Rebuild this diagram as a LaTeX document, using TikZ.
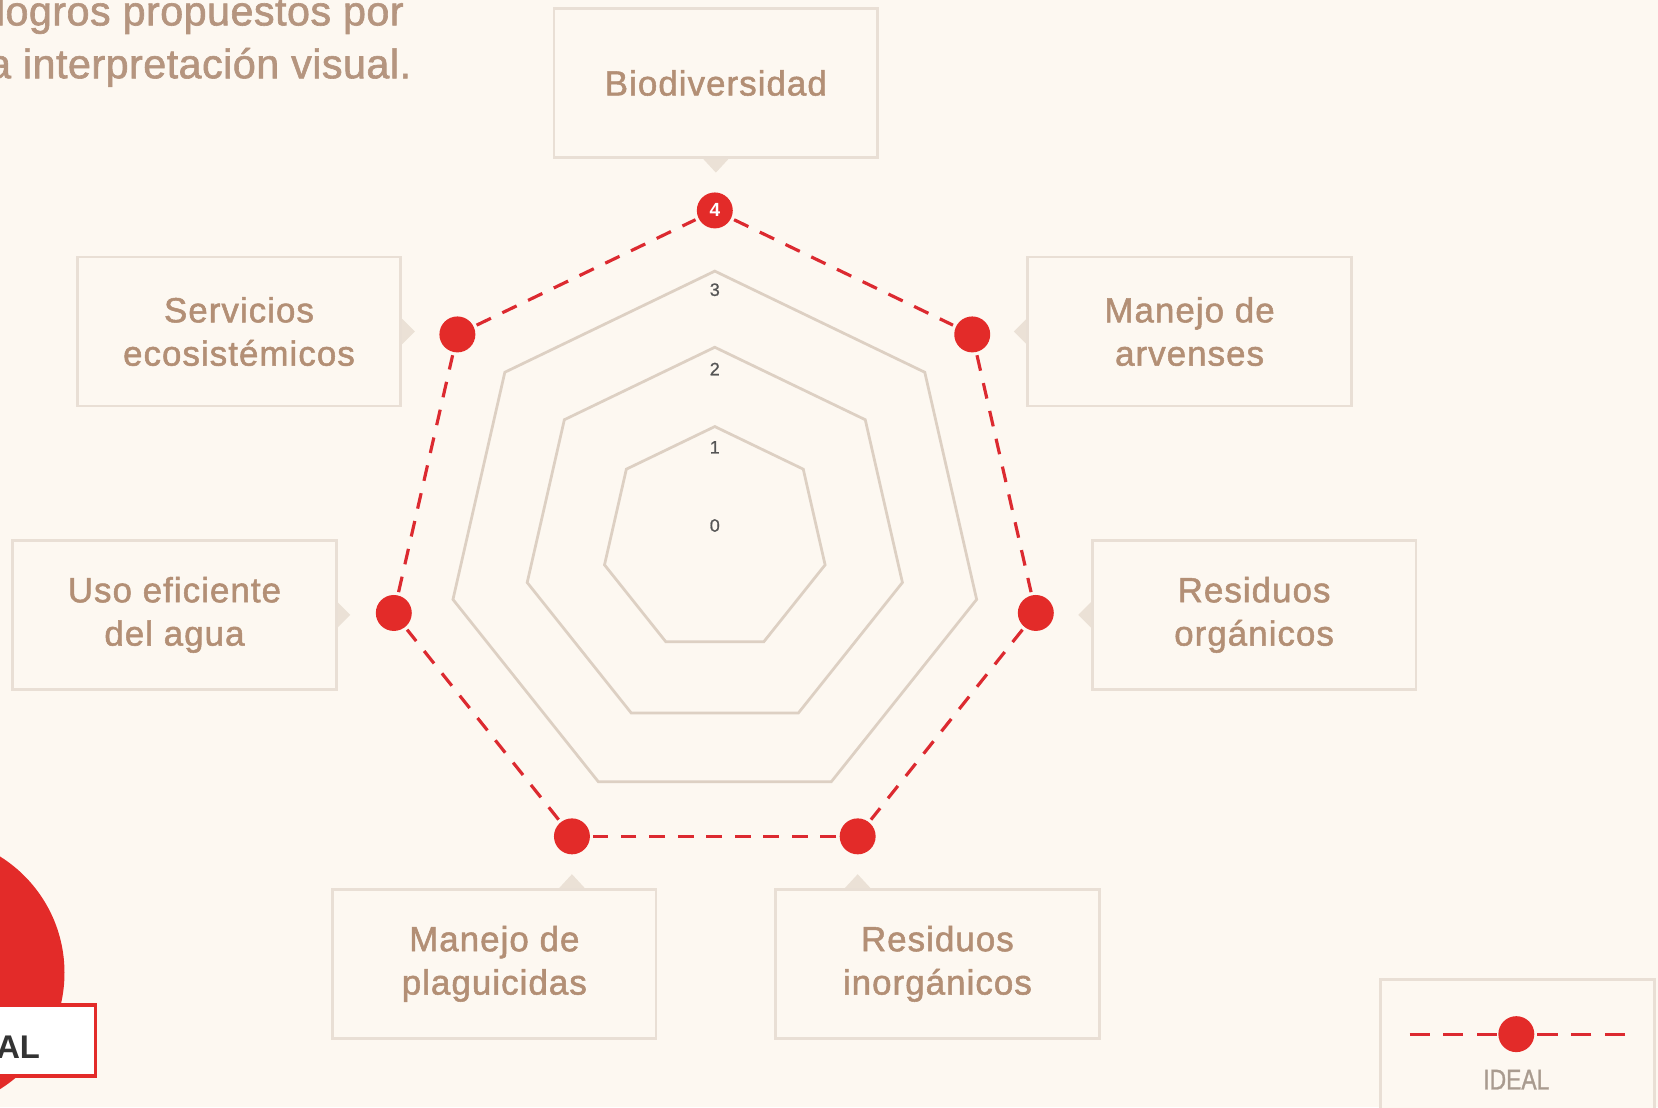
\documentclass[tikz,border=0pt]{standalone}
\usepackage{fontspec}
\setmainfont{Liberation Sans}
\newfontfamily\labfont[LetterSpace=3,FakeBold=1.5]{Liberation Sans}
\newfontfamily\topfont[LetterSpace=1.2,FakeBold=1.5]{Liberation Sans}
\newfontfamily\condfont[FakeStretch=0.8,FakeBold=1]{Liberation Sans}
\newfontfamily\numfont[FakeBold=0.8]{Liberation Sans}
\usetikzlibrary{calc}
\definecolor{bgc}{HTML}{FDF8F1}
\definecolor{boxline}{HTML}{E9DFD5}
\definecolor{ptrc}{HTML}{EBE1D6}
\definecolor{labc}{HTML}{B38F75}
\definecolor{toptc}{HTML}{B5957F}
\definecolor{gridc}{HTML}{DDD0C3}
\definecolor{redc}{HTML}{E32B29}
\definecolor{dashc}{HTML}{DC2A30}
\definecolor{numc}{HTML}{555555}
\definecolor{legc}{HTML}{A99B8F}
\definecolor{darkc}{HTML}{333333}
\tikzset{
 lbox/.style={draw=boxline, line width=2.5pt, fill=bgc, minimum width=306pt, minimum height=141pt, inner sep=0pt, text=labc, align=center, font=\labfont\fontsize{33}{41}\selectfont},
 ptr/.style={fill=ptrc},
 gridl/.style={draw=gridc, line width=2.6pt, line join=miter},
 dot/.style={circle, fill=redc, minimum size=34pt, inner sep=0pt},
 rdash/.style={draw=dashc, line width=3pt, dash pattern=on 15pt off 12pt},
 num/.style={text=numc, font=\numfont\fontsize{17}{17}\selectfont, inner sep=0pt},
 toptext/.style={anchor=base east, text=toptc, font=\topfont\fontsize{39}{50}\selectfont, inner sep=0pt},
}
\begin{document}
\begin{tikzpicture}[x=1pt,y=-1pt]
\useasboundingbox (0,0) rectangle (1568,1047);
\clip (0,0) rectangle (1568,1047);
\fill[bgc] (0,0) rectangle (1568,1047);

% top-left text
\node[toptext] (t1) at (382,24) {logros propuestos por};
\node[toptext] (t2) at (389,74) {a interpretación visual.};

% grid polygons and points
\begin{scope}[shift={(676,510.4)}]
 \foreach \r in {107,182,254}
  \draw[gridl] (-90:\r) \foreach \k in {1,...,6}{ -- ({-90+\k*360/7}:\r)} -- cycle;
 \foreach \k in {1,...,6} \node[dot] (p\k) at ({-90+\k*360/7}:311.4) {};
 \node[dot, text=white, font=\bfseries\fontsize{18}{18}\selectfont] (p0) at (-90:311.4) {4};
\end{scope}

\foreach \k [remember=\k as \prev (initially 6)] in {0,...,6}
  \draw[rdash, shorten <=3pt, shorten >=3pt] (p\prev) -- (p\k);

\node[num] (n0) at (676,497) {0};
\node[num] (n1) at (676,423) {1};
\node[num] (n2) at (676,349) {2};
\node[num] (n3) at (676,274) {3};

% label boxes
\node[lbox] (bio) at (677,78.5) {Biodiversidad};
\node[lbox] (arv) at (1125,313.5) {Manejo de\\arvenses};
\node[lbox] (org) at (1186,581.5) {Residuos\\orgánicos};
\node[lbox] (inorg) at (886.5,911.5) {Residuos\\inorgánicos};
\node[lbox] (plag) at (467.5,911.5) {Manejo de\\plaguicidas};
\node[lbox] (uso) at (165,581.5) {Uso eficiente\\del agua};
\node[lbox] (serv) at (226,313.5) {Servicios\\ecosistémicos};

% pointers
\fill[ptr] ($(bio.south)+(-12,0)$) -- ($(bio.south)+(0,13)$) -- ($(bio.south)+(12,0)$) -- cycle;
\fill[ptr] ($(arv.west)+(0,-12)$) -- ($(arv.west)+(-12,0)$) -- ($(arv.west)+(0,12)$) -- cycle;
\fill[ptr] ($(org.west)+(0,-12)$) -- ($(org.west)+(-12,0)$) -- ($(org.west)+(0,12)$) -- cycle;
\fill[ptr] ($(uso.east)+(0,-12)$) -- ($(uso.east)+(12,0)$) -- ($(uso.east)+(0,12)$) -- cycle;
\fill[ptr] ($(serv.east)+(0,-12)$) -- ($(serv.east)+(12,0)$) -- ($(serv.east)+(0,12)$) -- cycle;
\coordinate (ip) at (p3 |- inorg.north);
\coordinate (pp) at (p4 |- plag.north);
\fill[ptr] ($(ip)+(-12,0)$) -- ($(ip)+(0,-13)$) -- ($(ip)+(12,0)$) -- cycle;
\fill[ptr] ($(pp)+(-12,0)$) -- ($(pp)+(0,-13)$) -- ($(pp)+(12,0)$) -- cycle;

% legend
\node[draw=boxline, line width=3pt, fill=bgc, minimum width=259pt, minimum height=140pt, anchor=north west, inner sep=0pt] (leg) at (1304,925) {};
\node[dot] (ld) at (1434,978) {};
\coordinate (la) at (1333,978);
\coordinate (lb) at (1537,978);
\draw[rdash, dash pattern=on 19pt off 13pt] (la) -- (ld);
\draw[rdash, dash pattern=on 19pt off 13pt] (lb) -- (ld);
\node[text=legc, font=\condfont\fontsize{27}{27}\selectfont, inner sep=0pt] (lt) at (1434,1021) {IDEAL};

% bottom-left fragment
\node[circle, fill=redc, minimum size=259.4pt, inner sep=0pt] (bigc) at (-68.7,920) {};
\node[draw=redc, line width=3pt, fill=white, anchor=north east, minimum width=120pt, minimum height=67pt, inner sep=0pt] (albox) at (91.5,949) {};
\node[anchor=base east, font=\bfseries\fontsize{31}{31}\selectfont, text=darkc, inner sep=0pt] (al) at (38,1001) {AL};
\end{tikzpicture}
\end{document}
